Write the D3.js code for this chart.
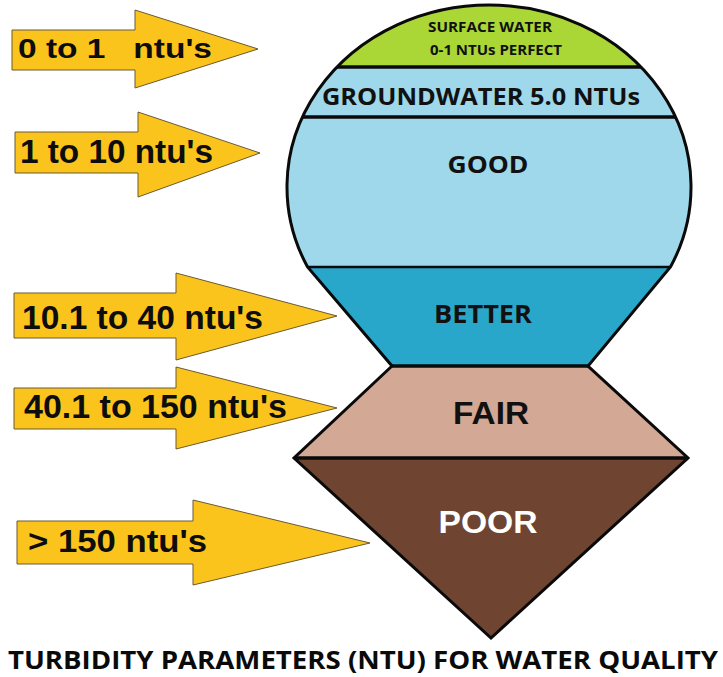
<!DOCTYPE html>
<html>
<head>
<meta charset="utf-8">
<script src="https://cdn.jsdelivr.net/npm/d3@7"></script>
<style>
  html, body { margin: 0; padding: 0; background: #ffffff; }
  svg { display: block; }
</style>
</head>
<body>
<svg id="chart" width="723" height="677"></svg>
<script>
// ---------- data ----------
const levels = ["SURFACE WATER", "GROUNDWATER", "GOOD", "BETTER", "FAIR", "POOR"];
const levelLabels = [["SURFACE WATER", "0-1 NTUs PERFECT"], ["GROUNDWATER 5.0 NTUs"], ["GOOD"], ["BETTER"], ["FAIR"], ["POOR"]];
const rangeLabels = ["0 to 1   ntu's", "1 to 10 ntu's", "10.1 to 40 ntu's", "40.1 to 150 ntu's", "> 150 ntu's"];
const title = "TURBIDITY PARAMETERS (NTU) FOR WATER QUALITY";

// ---------- layout / style ----------
const bandEdges = [5, 67, 117, 267, 366, 458, 638];   // y of boundaries between levels
const bandColors = ["#aad636", "#9fd8ea", "#9fd8ea", "#29a7ca", "#d3a895", "#6f4532"];
const ell = { cx: 489, cy: 187, rx: 202, ry: 182 };
const shapeX = { betterBottom: [392, 588], fairBottom: [294, 688], apex: 491 };

const labelLayout = [
  { lines: [{ x: 490, y: 32, w: 124, fs: 13.5 }, { x: 496, y: 55, w: 132, fs: 13.5 }], font: "Open Sans", fill: "#111" },
  { lines: [{ x: 481, y: 105, w: 318, fs: 24 }], font: "Open Sans", fill: "#111" },
  { lines: [{ x: 488, y: 173, w: 81, fs: 24 }], font: "Open Sans", fill: "#111" },
  { lines: [{ x: 483, y: 323, w: 98, fs: 25 }], font: "Open Sans", fill: "#111" },
  { lines: [{ x: 491, y: 424, w: 76, fs: 32 }], font: "Liberation Sans", fill: "#111" },
  { lines: [{ x: 488, y: 533, w: 99, fs: 32 }], font: "Liberation Sans", fill: "#ffffff" }
];

const arrowLayout = [
  { x0: 12, y0: 30, y1: 70, hx: 135, hy0: 10, hy1: 88, tx: 258, ty: 49, lx: 18, ly: 58, lw: 194, fs: 28 },
  { x0: 15, y0: 132, y1: 173, hx: 138, hy0: 112, hy1: 197, tx: 260, ty: 153, lx: 20, ly: 163, lw: 193, fs: 33 },
  { x0: 14, y0: 293, y1: 338, hx: 176, hy0: 273, hy1: 360, tx: 337, ty: 316, lx: 22, ly: 329, lw: 241, fs: 33 },
  { x0: 14, y0: 388, y1: 429, hx: 176, hy0: 367, hy1: 449, tx: 337, ty: 408, lx: 24, ly: 418, lw: 263, fs: 33 },
  { x0: 17, y0: 521, y1: 564, hx: 193, hy0: 500, hy1: 585, tx: 370, ty: 543, lx: 28, ly: 552, lw: 179, fs: 31 }
];

const svg = d3.select("#chart");

// ---------- shape outline ----------
const yb = bandEdges[3];
const dy = yb - ell.cy;
const half = ell.rx * Math.sqrt(1 - (dy * dy) / (ell.ry * ell.ry));
const xl = ell.cx - half, xr = ell.cx + half;

const outline = d3.path();
outline.moveTo(xl, yb);
// arc over the top (approximate elliptical arc via SVG arc command below)
const outlineD =
  `M${xl},${yb} A${ell.rx},${ell.ry} 0 1 1 ${xr},${yb}` +
  ` L${shapeX.betterBottom[1]},${bandEdges[4]}` +
  ` L${shapeX.fairBottom[1]},${bandEdges[5]}` +
  ` L${shapeX.apex},${bandEdges[6]}` +
  ` L${shapeX.fairBottom[0]},${bandEdges[5]}` +
  ` L${shapeX.betterBottom[0]},${bandEdges[4]} Z`;

svg.append("defs").append("clipPath").attr("id", "shapeClip")
  .append("path").attr("d", outlineD);

const bands = svg.append("g").attr("clip-path", "url(#shapeClip)");
bands.selectAll("rect").data(levels).join("rect")
  .attr("x", 250).attr("width", 480)
  .attr("y", (d, i) => bandEdges[i])
  .attr("height", (d, i) => bandEdges[i + 1] - bandEdges[i] + 1)
  .attr("fill", (d, i) => bandColors[i]);

bands.selectAll("line").data(bandEdges.slice(1, 6)).join("line")
  .attr("x1", 250).attr("x2", 730)
  .attr("y1", d => d).attr("y2", d => d)
  .attr("stroke", "#0a0a0a")
  .attr("stroke-width", (d, i) => i === 2 ? 2.5 : 3.5);

svg.append("path").attr("d", outlineD)
  .attr("fill", "none").attr("stroke", "#0a0a0a")
  .attr("stroke-width", 3).attr("stroke-linejoin", "miter");

// ---------- level labels ----------
levelLabels.forEach((lines, i) => {
  const L = labelLayout[i];
  lines.forEach((txt, j) => {
    const p = L.lines[j];
    svg.append("text")
      .attr("x", p.x - p.w / 2).attr("y", p.y)
      .attr("font-family", L.font).attr("font-weight", "bold")
      .attr("font-size", p.fs).attr("fill", L.fill)
      .attr("textLength", p.w).attr("lengthAdjust", "spacingAndGlyphs")
      .text(txt);
  });
});

// ---------- arrows ----------
const line = d3.line();
const arrows = svg.append("g");
rangeLabels.forEach((lab, i) => {
  const a = arrowLayout[i];
  const pts = [[a.x0, a.y0], [a.hx, a.y0], [a.hx, a.hy0], [a.tx, a.ty], [a.hx, a.hy1], [a.hx, a.y1], [a.x0, a.y1]];
  arrows.append("path").attr("d", line(pts) + "Z")
    .attr("fill", "#fbc41c").attr("stroke", "#6b5a34").attr("stroke-width", 1);
  arrows.append("text")
    .attr("x", a.lx).attr("y", a.ly)
    .attr("font-family", "Liberation Sans, Arial, sans-serif").attr("font-weight", "bold")
    .attr("font-size", a.fs).attr("fill", "#0d0d0d")
    .style("white-space", "pre")
    .attr("textLength", a.lw).attr("lengthAdjust", "spacingAndGlyphs")
    .text(lab);
});

// ---------- title ----------
svg.append("text")
  .attr("x", 8).attr("y", 669)
  .attr("font-family", "Open Sans").attr("font-weight", "bold")
  .attr("font-size", 25).attr("fill", "#0a0a0a")
  .attr("textLength", 710).attr("lengthAdjust", "spacingAndGlyphs")
  .text(title);
</script>
</body>
</html>
